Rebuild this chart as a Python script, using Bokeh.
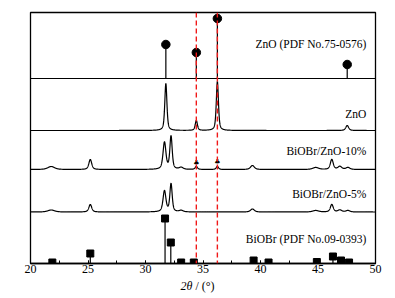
import numpy as np
from bokeh.plotting import figure
from bokeh.layouts import column
from bokeh.models import Span, FixedTicker, Div
from bokeh.core.properties import value
from bokeh.embed import file_html
from bokeh.resources import INLINE

FONT = "Liberation Serif"

# ---- data (2theta in degrees, intensities in stacked plot units) ----
# Reference pattern ZnO (PDF No.75-0576)
zno_pdf_pos = [31.77, 34.42, 36.25, 47.54]
zno_pdf_int = [34, 26, 60, 14]
zno_pdf_base = 185

# Reference pattern BiOBr (PDF No.09-0393)
biobr_pdf_pos = [21.9, 25.2, 31.7, 32.2, 33.1, 34.2, 39.4, 40.7, 44.9, 46.3, 47.0, 47.7]
biobr_pdf_int = [1, 10, 45, 21, 1, 1, 3, 1, 1.5, 7, 3, 1]
biobr_pdf_base = 0

# Measured patterns: peak positions, heights, half-widths
zno_base = 133
zno_peaks_pos = [31.77, 34.42, 36.25, 47.54]
zno_peaks_h = [47, 10, 49, 5]
zno_peaks_w = [0.11, 0.11, 0.11, 0.15]

b10_base = 94
b10_peaks_pos = [21.8, 25.2, 31.65, 32.22, 33.1, 34.42, 36.25, 39.3, 44.8, 46.2, 46.9, 47.6]
b10_peaks_h = [3, 10, 27, 33, 2, 3, 3, 4, 2, 10, 3, 2]
b10_peaks_w = [0.35, 0.15, 0.15, 0.12, 0.2, 0.12, 0.12, 0.2, 0.3, 0.15, 0.2, 0.2]

b5_base = 51.5
b5_peaks_pos = [21.8, 25.2, 31.65, 32.22, 33.1, 39.3, 44.8, 46.2, 46.9, 47.6]
b5_peaks_h = [2, 7.5, 21, 28, 1.5, 3, 1.5, 7.5, 2, 1.5]
b5_peaks_w = [0.35, 0.15, 0.15, 0.12, 0.2, 0.2, 0.3, 0.15, 0.2, 0.2]

# ZnO markers on the 10 % pattern
mark_pos = [34.42, 36.25]
mark_y = [100.5, 101.5]

ref_lines = [34.42, 36.25]

labels = ["ZnO (PDF No.75-0576)", "ZnO", "BiOBr/ZnO-10%", "BiOBr/ZnO-5%", "BiOBr (PDF No.09-0393)"]
label_y = [220, 150, 113, 70, 25]

x_ticks = [20, 25, 30, 35, 40, 45, 50]
x_minor = [22.5, 27.5, 32.5, 37.5, 42.5, 47.5]


def profile(x, base, pos, h, w, eta=0.55):
    y = np.full_like(x, float(base))
    for p, hh, ww in zip(pos, h, w):
        d = (x - p) / ww
        lor = 1.0 / (1.0 + d * d)
        gau = np.exp(-np.log(2) * d * d)
        y += hh * (eta * lor + (1 - eta) * gau)
    return y


x = np.linspace(20, 50, 3001)

p = figure(width=390, height=279, x_range=(20, 50), y_range=(0, 251),
           output_backend="svg", toolbar_location=None,
           min_border_left=30, min_border_right=15, min_border_top=12, min_border_bottom=16)
p.xgrid.visible = False
p.ygrid.visible = False
p.yaxis.visible = False
p.outline_line_color = "black"
p.outline_line_width = 1.3
p.outline_line_alpha = 1
p.background_fill_color = "white"
p.border_fill_color = "white"

xa = p.xaxis[0]
xa.ticker = FixedTicker(ticks=x_ticks, minor_ticks=x_minor + x_ticks)
xa.axis_line_color = "black"
xa.axis_line_width = 1.3
xa.major_tick_in = 3
xa.major_tick_out = 0
xa.minor_tick_in = 3
xa.minor_tick_out = 0
xa.major_tick_line_width = 1
xa.minor_tick_line_width = 1
xa.major_label_text_font = FONT
xa.major_label_text_font_size = "12px"
xa.major_label_text_color = "black"
xa.major_label_standoff = 1

# baseline of the ZnO stick pattern
p.line([20, 50], [zno_pdf_base, zno_pdf_base], line_color="black", line_width=1.2)

# ZnO PDF sticks
p.segment(x0=zno_pdf_pos, y0=[zno_pdf_base] * len(zno_pdf_pos), x1=zno_pdf_pos,
          y1=[zno_pdf_base + v for v in zno_pdf_int], line_color="black", line_width=1.2)
p.scatter(zno_pdf_pos, [zno_pdf_base + v for v in zno_pdf_int], marker="circle", size=8.5,
          fill_color="black", line_color="black")

# BiOBr PDF sticks
p.segment(x0=biobr_pdf_pos, y0=[biobr_pdf_base] * len(biobr_pdf_pos), x1=biobr_pdf_pos,
          y1=[biobr_pdf_base + v for v in biobr_pdf_int], line_color="black", line_width=1.2)
p.scatter(biobr_pdf_pos, [biobr_pdf_base + v for v in biobr_pdf_int], marker="square", size=7,
          fill_color="black", line_color="black")

# measured patterns
p.line(x, profile(x, zno_base, zno_peaks_pos, zno_peaks_h, zno_peaks_w), line_color="black", line_width=1.2)
p.line(x, profile(x, b10_base, b10_peaks_pos, b10_peaks_h, b10_peaks_w), line_color="black", line_width=1.2)
p.line(x, profile(x, b5_base, b5_peaks_pos, b5_peaks_h, b5_peaks_w), line_color="black", line_width=1.2)

# red dashed reference lines
for loc in ref_lines:
    p.add_layout(Span(location=loc, dimension="height", line_color="#f01818",
                      line_dash="5 3", line_width=1.4))

# markers on the 10% pattern
p.text(x=mark_pos, y=mark_y, text=["♣"] * len(mark_pos), text_font=value("DejaVu Sans"),
       text_font_size="7px", text_align="center", text_baseline="middle", text_color="black")

# series labels
p.text(x=[49.2] * len(labels), y=label_y, text=labels, text_font=value(FONT),
       text_font_size="11.5px", text_align="right", text_baseline="middle", text_color="black")

# x axis title: italic 2θ followed by roman "/ (°)"
title = Div(text="<i>2θ</i> / (°)", width=390, height=14, margin=0,
            styles={"text-align": "center", "font-family": "'Liberation Serif', serif",
                    "font-size": "12px", "line-height": "14px", "padding-left": "5px",
                    "color": "black"})

layout = column(p, title, spacing=0)

open("out.html", "w").write(file_html(layout, INLINE))
